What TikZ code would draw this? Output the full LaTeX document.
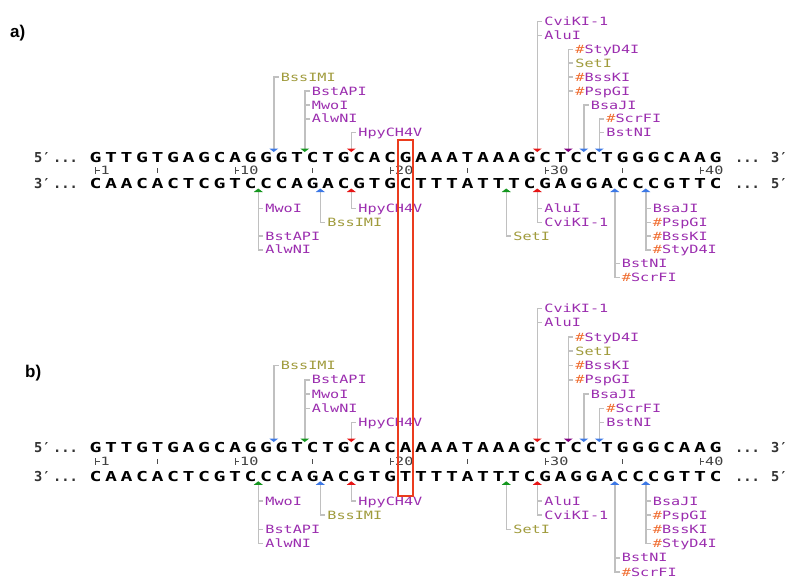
\documentclass[tikz,border=0pt]{standalone}
\usepackage{fontspec}
\setmainfont{Liberation Sans}
\newfontfamily\seqfont{DejaVu Sans Mono}[FakeStretch=1.45]
\newfontfamily\endfont{DejaVu Sans Mono}
\newfontfamily\labfont{DejaVu Sans Mono}[FakeStretch=1.33]

\definecolor{enz}{RGB}{155,45,175}
\definecolor{enzolive}{RGB}{160,155,60}
\definecolor{hashc}{RGB}{240,110,50}
\definecolor{cutgrey}{RGB}{192,192,192}
\definecolor{tblue}{RGB}{60,120,230}
\definecolor{tgreen}{RGB}{20,150,30}
\definecolor{tred}{RGB}{230,20,20}
\definecolor{tpurple}{RGB}{128,0,128}
\definecolor{boxred}{RGB}{235,60,30}

\tikzset{
  seqch/.style={font=\seqfont\bfseries\fontsize{13.7}{14}\selectfont, text=black,
    inner sep=0pt, text height=10pt, text depth=0pt, anchor=center},
  endtxt/.style={font=\endfont\bfseries\fontsize{13.7}{14}\selectfont, text=black!80,
    inner sep=0pt, text height=10pt, text depth=0pt, anchor=west},
  enzlab/.style={font=\labfont\fontsize{11.4}{12}\selectfont, text=enz,
    inner xsep=2pt, inner ysep=0pt, text height=8.3pt, text depth=0pt, anchor=west},
  olivelab/.style={enzlab, text=enzolive},
  conn/.style={draw=cutgrey, line width=1.5pt},
  ticknum/.style={font=\labfont\fontsize{11.4}{12}\selectfont, text=black!75,
    inner xsep=1pt, inner ysep=0pt, text height=8.3pt, text depth=0pt, anchor=west},
  tickbar/.style={draw=black!70, line width=1pt},
  panellabel/.style={font=\bfseries\fontsize{17}{18}\selectfont, anchor=west, inner sep=0pt},
  hilite/.style={draw=boxred, line width=2pt},
}

% orange marker in front of some enzyme names
\newcommand\hs{{\color{hashc}\#}}

% enzyme label above the top strand: prefix, name, cut index, row, text, style
\newcommand\uplab[6]{%
  \node[#6] (#1-#2) at ({103.25+(#3-1)*15.5+5},{\ua-(#4)*\us}) {#5};
  \draw[conn] (#1-u#3) |- (#1-#2.west);}
% enzyme label below the bottom strand
\newcommand\dnlab[6]{%
  \node[#6] (#1-#2) at ({103.25+(#3-1)*15.5+5},{\da+(#4)*\ds}) {#5};
  \draw[conn] (#1-d#3) |- (#1-#2.west);}

\newcommand\cutdown[2]{\fill[#2] (#1) ++(-4.5,0) -- ++(9,0) -- ++(-4.5,3.5) -- cycle;}
\newcommand\cutup[2]{\fill[#2] (#1) ++(-4.5,0) -- ++(9,0) -- ++(-4.5,-3.5) -- cycle;}

% one double-strand map: prefix, base 21 of top strand, base 21 of bottom strand
\newcommand\seqpanel[3]{%
  \foreach \k in {12,14,17,29,31,32,33}
    {\coordinate (#1-u\k) at ({103.25+(\k-1)*15.5},{\yt-8.5});}
  \foreach \k in {11,15,17,27,29,34,36}
    {\coordinate (#1-d\k) at ({103.25+(\k-1)*15.5},{\yb+8.5});}
  % labels above
  \uplab{#1}{uBssIMI}{12}{4}{BssIMI}{olivelab}
  \uplab{#1}{uBstAPI}{14}{3}{BstAPI}{enzlab}
  \uplab{#1}{uMwoI}{14}{2}{MwoI}{enzlab}
  \uplab{#1}{uAlwNI}{14}{1}{AlwNI}{enzlab}
  \uplab{#1}{uHpy}{17}{0}{HpyCH4V}{enzlab}
  \uplab{#1}{uCviKI}{29}{8}{CviKI-1}{enzlab}
  \uplab{#1}{uAluI}{29}{7}{AluI}{enzlab}
  \uplab{#1}{uStyD4I}{31}{6}{\hs StyD4I}{enzlab}
  \uplab{#1}{uSetI}{31}{5}{SetI}{olivelab}
  \uplab{#1}{uBssKI}{31}{4}{\hs BssKI}{enzlab}
  \uplab{#1}{uPspGI}{31}{3}{\hs PspGI}{enzlab}
  \uplab{#1}{uBsaJI}{32}{2}{BsaJI}{enzlab}
  \uplab{#1}{uScrFI}{33}{1}{\hs ScrFI}{enzlab}
  \uplab{#1}{uBstNI}{33}{0}{BstNI}{enzlab}
  % labels below
  \dnlab{#1}{dMwoI}{11}{0}{MwoI}{enzlab}
  \dnlab{#1}{dBstAPI}{11}{2}{BstAPI}{enzlab}
  \dnlab{#1}{dAlwNI}{11}{3}{AlwNI}{enzlab}
  \dnlab{#1}{dBssIMI}{15}{1}{BssIMI}{olivelab}
  \dnlab{#1}{dHpy}{17}{0}{HpyCH4V}{enzlab}
  \dnlab{#1}{dSetI}{27}{2}{SetI}{olivelab}
  \dnlab{#1}{dAluI}{29}{0}{AluI}{enzlab}
  \dnlab{#1}{dCviKI}{29}{1}{CviKI-1}{enzlab}
  \dnlab{#1}{dBstNI}{34}{4}{BstNI}{enzlab}
  \dnlab{#1}{dScrFI}{34}{5}{\hs ScrFI}{enzlab}
  \dnlab{#1}{dBsaJI}{36}{0}{BsaJI}{enzlab}
  \dnlab{#1}{dPspGI}{36}{1}{\hs PspGI}{enzlab}
  \dnlab{#1}{dBssKI}{36}{2}{\hs BssKI}{enzlab}
  \dnlab{#1}{dStyD4I}{36}{3}{\hs StyD4I}{enzlab}
  % cut markers
  \cutdown{#1-u12}{tblue}\cutdown{#1-u14}{tgreen}\cutdown{#1-u17}{tred}
  \cutdown{#1-u29}{tred}\cutdown{#1-u31}{tpurple}\cutdown{#1-u32}{tblue}\cutdown{#1-u33}{tblue}
  \cutup{#1-d11}{tgreen}\cutup{#1-d15}{tblue}\cutup{#1-d17}{tred}
  \cutup{#1-d27}{tgreen}\cutup{#1-d29}{tred}\cutup{#1-d34}{tblue}\cutup{#1-d36}{tblue}
  % strands
  \foreach \ch [count=\i] in {G,T,T,G,T,G,A,G,C,A,G,G,G,T,C,T,G,C,A,C,#2,A,A,A,T,A,A,A,G,C,T,C,C,T,G,G,G,C,A,A,G}
    {\node[seqch] (#1-t\i) at ({95.5+(\i-1)*15.5},\yt) {\ch};}
  \foreach \ch [count=\i] in {C,A,A,C,A,C,T,C,G,T,C,C,C,A,G,A,C,G,T,G,#3,T,T,T,A,T,T,T,C,G,A,G,G,A,C,C,C,G,T,T,C}
    {\node[seqch] (#1-b\i) at ({95.5+(\i-1)*15.5},\yb) {\ch};}
  \node[endtxt] (#1-tl5) at (34,\yt) {5′};
  \node[endtxt] (#1-tld) at (53,\yt) {...};
  \node[endtxt] (#1-trd) at (735,\yt) {...};
  \node[endtxt] (#1-tr3) at (771,\yt) {3′};
  \node[endtxt] (#1-bl3) at (34,\yb) {3′};
  \node[endtxt] (#1-bld) at (53,\yb) {...};
  \node[endtxt] (#1-brd) at (735,\yb) {...};
  \node[endtxt] (#1-br5) at (771,\yb) {5′};
  % ruler
  \foreach \p in {1,10,20,30,40} {%
    \coordinate (#1-kb\p) at ({95.5+(\p-1)*15.5},\yk);
    \draw[tickbar] (#1-kb\p) ++(0,-3.5) -- ++(0,7);
    \node[ticknum] (#1-kn\p) at ([xshift=4pt]#1-kb\p) {\p};
    \draw[tickbar] (#1-kb\p) -- (#1-kn\p.west);}
  \foreach \p in {5,15,25,35} {%
    \coordinate (#1-kb\p) at ({95.5+(\p-1)*15.5},\yk);
    \draw[tickbar] (#1-kb\p) ++(0,-2.5) -- ++(0,5);}
}

\begin{document}
\begin{tikzpicture}[x=1pt,y=-1pt]
  \useasboundingbox (0,0) rectangle (789,578);
  \fill[white] (0,0) rectangle (789,578);

  \node[panellabel] (pa) at (10,33.5) {a)};
  \node[panellabel] (pb) at (25,373.5) {b)};

  % panel a
  \def\yt{157}\def\yk{170.5}\def\yb{183.5}
  \def\ua{132.7}\def\us{13.9}\def\da{208.5}\def\ds{13.75}
  \seqpanel{a}{G}{C}

  % panel b
  \def\yt{447}\def\yk{461.5}\def\yb{476.3}
  \def\ua{422.7}\def\us{14.3}\def\da{501}\def\ds{14.2}
  \seqpanel{b}{A}{T}

  % highlighted base 21 in both maps
  \draw[hilite] (397.5,140) rectangle (412.5,496);
\end{tikzpicture}
\end{document}
